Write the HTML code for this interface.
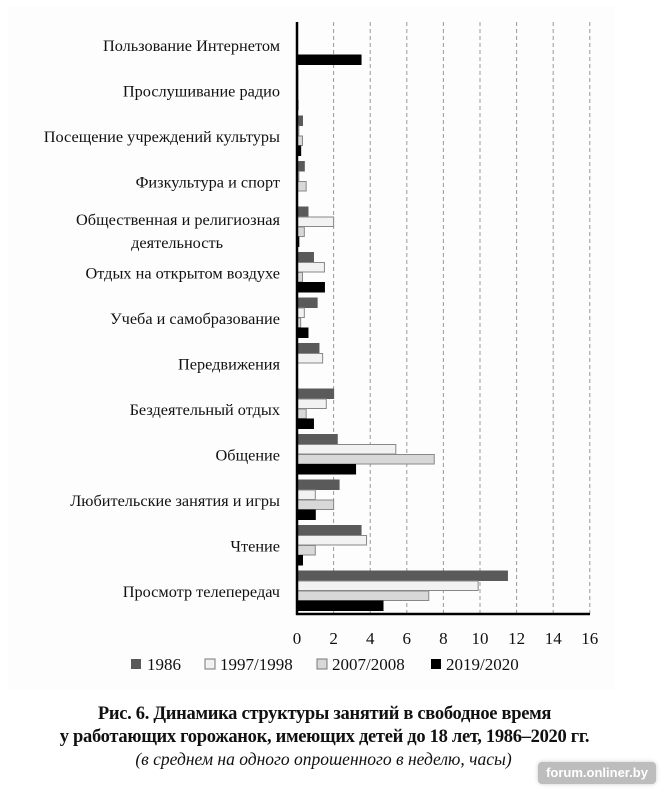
<!DOCTYPE html>
<html><head><meta charset="utf-8"><style>
body{margin:0;background:#fff;width:671px;height:797px;overflow:hidden;position:relative;font-family:"Liberation Serif",serif}
.cap{position:absolute;left:0;width:671px;text-align:center;color:#111;white-space:nowrap}
.wm{position:absolute;left:538px;top:762px;width:118px;height:22px;background:#bdbdbd;border-radius:4px;color:#fff;font:bold 13px "Liberation Sans",sans-serif;line-height:22px;text-align:center;box-shadow:0 0 4px #ccc}
</style></head><body>
<svg width="671" height="700" style="position:absolute;left:0;top:0" font-family="Liberation Serif, serif">
<rect x="8" y="6" width="606" height="684" fill="#fdfdfd"/>
<g stroke="#999" stroke-width="1" stroke-dasharray="4,3">
<line x1="333.6" y1="22" x2="333.6" y2="614"/><line x1="370.2" y1="22" x2="370.2" y2="614"/>
<line x1="406.8" y1="22" x2="406.8" y2="614"/><line x1="443.4" y1="22" x2="443.4" y2="614"/>
<line x1="480" y1="22" x2="480" y2="614"/><line x1="516.6" y1="22" x2="516.6" y2="614"/>
<line x1="553.2" y1="22" x2="553.2" y2="614"/><line x1="589.8" y1="22" x2="589.8" y2="614"/>
</g>
<g id="bars"></g>
<line x1="297" y1="22" x2="297" y2="615" stroke="#000" stroke-width="2.5"/>
<line x1="296" y1="614" x2="590" y2="614" stroke="#000" stroke-width="2.5"/>
<g font-size="17" fill="#111" text-anchor="middle">
<text x="297" y="644">0</text><text x="333.6" y="644">2</text><text x="370.2" y="644">4</text><text x="406.8" y="644">6</text><text x="443.4" y="644">8</text><text x="480" y="644">10</text><text x="516.6" y="644">12</text><text x="553.2" y="644">14</text><text x="589.8" y="644">16</text>
</g>
<g font-size="17" fill="#111">
<rect x="131" y="659" width="10" height="10" fill="#5a5a5a"/><text x="147" y="670">1986</text>
<rect x="205" y="659" width="10" height="10" fill="#f2f2f2" stroke="#777"/><text x="220" y="670">1997/1998</text>
<rect x="317" y="659" width="10" height="10" fill="#d8d8d8" stroke="#777"/><text x="332" y="670">2007/2008</text>
<rect x="431" y="659" width="10" height="10" fill="#000"/><text x="446" y="670">2019/2020</text>
</g>
<g id="labels" font-size="16.3" fill="#111" text-anchor="end"></g>
</svg>
<div class="cap" style="top:704px;left:-11px;font-weight:bold;font-size:18.5px;letter-spacing:-0.3px">Рис. 6. Динамика структуры занятий в свободное время</div>
<div class="cap" style="top:727px;left:-11px;font-weight:bold;font-size:18.5px;letter-spacing:-0.3px">у работающих горожанок, имеющих детей до 18 лет, 1986–2020 гг.</div>
<div class="cap" style="top:749px;font-style:italic;font-size:17.5px;left:-12px">(в среднем на одного опрошенного в неделю, часы)</div>
<div class="wm">forum.onliner.by</div>
<script>
var d=[
["Просмотр телепередач",[11.5,9.9,7.2,4.7]],
["Чтение",[3.5,3.8,1.0,0.3]],
["Любительские занятия и игры",[2.3,1.0,2.0,1.0]],
["Общение",[2.2,5.4,7.5,3.2]],
["Бездеятельный отдых",[2.0,1.6,0.5,0.9]],
["Передвижения",[1.2,1.4,0,0]],
["Учеба и самобразование",[1.1,0.4,0.2,0.6]],
["Отдых на открытом воздухе",[0.9,1.5,0.3,1.5]],
["Общественная и религиозная|деятельность",[0.6,2.0,0.4,0.1]],
["Физкультура и спорт",[0.4,0.1,0.5,0]],
["Посещение учреждений культуры",[0.3,0.1,0.3,0.2]],
["Прослушивание радио",[0.05,0.05,0.05,0.05]],
["Пользование Интернетом",[0,0,0,3.5]]];
var fills=["#5a5a5a","#f2f2f2","#d8d8d8","#000"],strokes=["#5a5a5a","#888","#888","#000"];
var b="",l="";
d.forEach(function(c,i){var bot=614-45.5*i;
c[1].forEach(function(v,j){if(v<=0)return;var y=bot-43+j*10;
b+='<rect x="297" y="'+y+'" width="'+(v*18.3)+'" height="9.5" fill="'+fills[j]+'" stroke="'+strokes[j]+'" stroke-width="1"/>';});
var cy=bot-22,p=c[0].split("|");
if(p.length==1)l+='<text x="280" y="'+(cy+5)+'">'+p[0]+'</text>';
else{l+='<text x="280" y="'+(cy-3)+'">'+p[0]+'</text><text x="223" y="'+(cy+20)+'">'+p[1]+'</text>';}
});
document.getElementById("bars").innerHTML=b;document.getElementById("labels").innerHTML=l;
</script>
</body></html>
